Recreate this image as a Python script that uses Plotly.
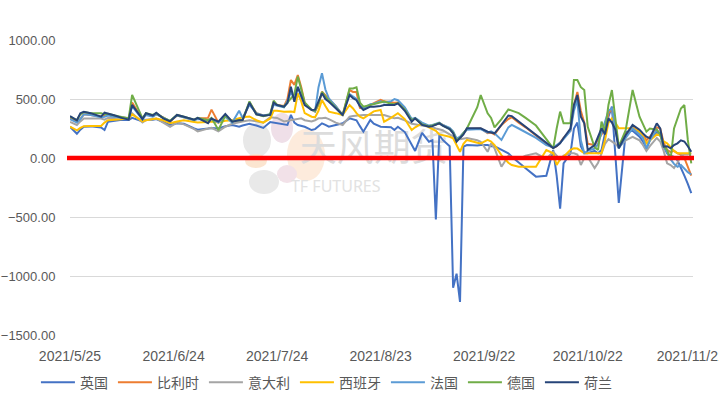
import plotly.graph_objects as go

dates = ["2021-05-25","2021-05-27","2021-05-28","2021-05-29","2021-05-31","2021-06-03","2021-06-04","2021-06-05","2021-06-07","2021-06-09",
"2021-06-11","2021-06-12","2021-06-15","2021-06-16","2021-06-18","2021-06-19","2021-06-21","2021-06-23","2021-06-25","2021-06-27",
"2021-06-30","2021-07-01","2021-07-04","2021-07-05","2021-07-07","2021-07-09","2021-07-11","2021-07-13","2021-07-14","2021-07-16",
"2021-07-18","2021-07-20","2021-07-22","2021-07-23","2021-07-24","2021-07-26","2021-07-27","2021-07-28","2021-07-29","2021-07-30",
"2021-07-31","2021-08-01","2021-08-03","2021-08-04","2021-08-05","2021-08-06","2021-08-07","2021-08-08","2021-08-10","2021-08-12",
"2021-08-14","2021-08-15","2021-08-16","2021-08-17","2021-08-18","2021-08-20","2021-08-21","2021-08-23","2021-08-24","2021-08-26",
"2021-08-27","2021-08-28","2021-08-30","2021-09-01","2021-09-02","2021-09-04","2021-09-06","2021-09-07","2021-09-08","2021-09-09",
"2021-09-10","2021-09-12","2021-09-13","2021-09-14","2021-09-15","2021-09-16","2021-09-17","2021-09-20","2021-09-21","2021-09-23",
"2021-09-24","2021-09-25","2021-09-27","2021-09-29","2021-09-30","2021-10-02","2021-10-04","2021-10-07","2021-10-10","2021-10-12",
"2021-10-13","2021-10-14","2021-10-15","2021-10-17","2021-10-18","2021-10-19","2021-10-20","2021-10-21","2021-10-22","2021-10-24",
"2021-10-25","2021-10-26","2021-10-27","2021-10-28","2021-10-29","2021-10-30","2021-10-31","2021-11-02","2021-11-04","2021-11-06",
"2021-11-07","2021-11-08","2021-11-09","2021-11-11","2021-11-12","2021-11-13","2021-11-14","2021-11-15","2021-11-16","2021-11-17",
"2021-11-18","2021-11-19","2021-11-20","2021-11-21"]

uk = [265,205,240,265,268,258,237,308,315,325,322,340,310,325,325,330,305,280,295,290,
250,240,250,255,250,270,280,265,275,290,275,255,305,300,290,280,280,365,300,280,
270,265,237,245,270,294,280,265,280,294,336,325,320,270,223,322,290,265,265,260,
237,265,220,110,60,212,138,150,-520,195,153,100,-1100,-980,-1220,96,110,105,110,110,
100,100,68,40,11,-40,-87,-158,-150,68,-150,-430,-45,40,250,300,100,40,40,60,
40,68,200,350,435,50,-381,220,230,180,140,80,150,220,200,100,40,20,10,-20,
-80,-150,-220,-297]

be = [340,310,330,370,365,350,365,370,355,345,330,470,330,370,355,370,345,310,360,345,
320,335,340,410,300,360,310,330,320,470,380,360,365,470,450,440,500,661,620,703,
600,466,407,393,450,562,530,506,440,364,576,560,560,424,420,450,466,492,480,470,
469,470,420,320,335,290,270,275,285,295,280,250,220,160,175,210,245,250,250,210,
215,200,280,330,345,300,260,190,120,85,100,130,170,230,450,560,400,300,120,110,
150,200,250,380,420,260,90,200,260,230,200,150,180,260,250,130,70,50,60,40,
30,0,-70,-150]

it = [305,280,310,335,335,335,325,340,340,345,340,380,300,320,330,335,300,265,300,285,
245,225,250,255,225,265,290,305,310,320,310,300,345,345,340,310,315,320,325,330,
336,320,310,320,336,336,340,330,300,280,350,355,360,362,364,364,364,364,364,345,
336,340,320,290,285,280,265,260,250,240,235,200,180,167,160,165,170,150,138,53,
124,82,-74,17,10,-8,20,40,-8,53,20,-17,20,40,40,30,-59,0,8,-85,
-40,40,120,160,140,120,90,150,180,150,110,60,100,170,140,60,-45,-60,-85,-40,
20,30,30,40]

es = [265,235,255,270,272,272,300,320,325,330,335,370,310,320,330,335,320,295,310,320,
305,300,305,310,300,315,320,340,345,352,320,300,335,400,400,393,395,395,390,548,
480,380,350,345,400,492,440,393,380,364,449,420,380,350,336,379,395,407,308,340,
360,380,330,237,260,294,260,245,230,200,195,180,167,110,53,120,153,130,124,153,
140,110,25,-40,-60,-74,-74,-74,68,40,-59,-10,11,70,82,80,60,40,40,40,
40,40,150,300,336,300,252,250,252,220,180,124,150,200,190,140,124,90,60,40,
40,40,40,40]

fr = [330,300,330,370,365,345,350,360,350,340,330,440,325,365,350,370,340,315,360,345,
320,330,320,330,300,350,300,400,340,450,380,360,370,450,445,430,480,560,500,600,
520,460,410,395,600,718,580,506,440,364,542,520,500,440,420,455,460,480,470,480,
500,490,430,330,340,300,275,280,290,300,280,255,225,165,180,215,240,240,245,215,
225,210,153,260,280,250,220,170,110,90,110,130,160,230,400,492,150,42,60,80,
120,210,300,400,421,250,82,170,250,200,170,80,150,240,200,100,40,-10,-50,-74,
-60,-90,-120,-140]

de = [350,320,370,390,380,380,370,375,360,350,335,535,335,380,365,380,340,315,365,350,
325,340,320,340,237,360,310,320,322,480,370,355,370,486,450,435,470,500,540,690,
580,470,410,400,460,560,520,490,430,364,590,590,599,470,435,450,460,470,479,460,
455,465,410,320,335,285,270,275,285,295,275,245,215,150,170,210,250,430,534,379,
340,260,330,412,400,380,340,275,160,82,250,393,294,294,661,661,600,576,265,90,
68,308,223,450,576,322,96,237,576,350,280,223,250,240,200,100,68,-17,250,336,
420,449,153,-45]

nl = [355,320,380,392,380,350,384,378,360,340,325,450,330,380,360,384,336,310,365,350,
325,340,295,335,308,372,308,320,322,469,370,358,365,469,449,435,466,604,477,604,
534,449,407,410,480,548,500,477,421,364,534,506,490,440,407,435,435,440,449,449,
450,463,400,308,336,280,265,270,280,294,275,245,209,138,170,200,252,252,252,223,
215,209,280,360,355,310,270,200,130,85,100,124,170,250,450,534,350,294,68,110,
180,252,200,336,300,240,82,195,280,240,209,180,167,294,250,96,100,82,110,124,
150,140,100,53]

series = [
    ("英国", uk, "#4472C4"),
    ("比利时", be, "#ED7D31"),
    ("意大利", it, "#A5A5A5"),
    ("西班牙", es, "#FFC000"),
    ("法国", fr, "#5B9BD5"),
    ("德国", de, "#70AD47"),
    ("荷兰", nl, "#264478"),
]

tick_dates = ["2021-05-25","2021-06-24","2021-07-24","2021-08-23","2021-09-22","2021-10-22","2021-11-21"]
tick_labels = ["2021/5/25","2021/6/24","2021/7/24","2021/8/23","2021/9/22","2021/10/22","2021/11/21"]
y_ticks = [1000, 500, 0, -500, -1000, -1500]

fig = go.Figure()

# watermark text (beneath the lines)
fig.add_trace(go.Scatter(x=["2021-08-21"], y=[55], mode="text", text=["天风期货"],
                         textfont=dict(family="Noto Sans CJK SC", size=37, color="#dcdcdc"),
                         showlegend=False, hoverinfo="skip"))
fig.add_trace(go.Scatter(x=["2021-08-10"], y=[-250], mode="text", text=["TF FUTURES"],
                         textfont=dict(family="Noto Sans", size=16, color="#e2e2e2"),
                         showlegend=False, hoverinfo="skip"))

for name, vals, col in series:
    fig.add_trace(go.Scatter(x=dates, y=vals, name=name, mode="lines",
                             line=dict(color=col, width=2), connectgaps=True))

W, H = 719, 407
L, R, T, B = 70, 26, 40, 72
pw, ph = W - L - R, H - T - B

def px(x):
    return (x - L) / pw

def py(y):
    return (H - B - y) / ph

shapes = []
petals = [
    (257, 140, 14, 17, "#e8e8e8"),
    (282, 128, 11, 15, "#efdfe8"),
    (306, 155, 19, 26, "#fdebdc"),
    (287, 174, 10, 9, "#f2e1e8"),
    (256, 161, 11, 7, "#fbe5d0"),
    (264, 182, 15, 12, "#e9e9e9"),
]
for cx, cy, rx, ry, c in petals:
    shapes.append(dict(type="circle", xref="paper", yref="paper",
                       x0=px(cx - rx), x1=px(cx + rx), y0=py(cy + ry), y1=py(cy - ry),
                       fillcolor=c, line=dict(width=0), layer="below"))
shapes.append(dict(type="line", xref="paper", yref="y", x0=px(67), x1=px(694), y0=0, y1=0,
                   line=dict(color="#FF0000", width=4.5), layer="above"))

fig.update_layout(
    width=W, height=H,
    margin=dict(l=L, r=R, t=T, b=B, autoexpand=False),
    paper_bgcolor="white", plot_bgcolor="white",
    font=dict(family="Noto Sans CJK SC, Microsoft YaHei, sans-serif", size=14, color="#595959"),
    shapes=shapes,
    showlegend=True,
    legend=dict(orientation="h", xref="container", x=0.454, xanchor="center",
                yref="container", y=0.06, yanchor="middle",
                font=dict(size=14, color="#595959"), itemwidth=34, tracegroupgap=0),
    hovermode=False,
)
fig.update_xaxes(type="date", range=["2021-05-25", "2021-11-21 12:00"],
                 tickvals=tick_dates, ticktext=tick_labels, showgrid=False,
                 ticks="outside", ticklen=8, tickcolor="rgba(0,0,0,0)",
                 showline=False, zeroline=False, automargin=False,
                 ticklabeloverflow="allow",
                 tickfont=dict(family="Liberation Sans, Arial, sans-serif", size=14, color="#595959"))
fig.update_yaxes(range=[-1500, 1000], tickvals=y_ticks, tickformat=".2f",
                 showgrid=True, gridcolor="#d9d9d9", gridwidth=1, zeroline=False,
                 ticks="outside", ticklen=11, tickcolor="rgba(0,0,0,0)", automargin=False,
                 tickfont=dict(family="Liberation Sans, Arial, sans-serif", size=13, color="#595959"))

fig.write_html("out.html", config={"displayModeBar": False, "staticPlot": True},
               post_script="document.body.style.margin='0';document.body.style.overflow='hidden';")
